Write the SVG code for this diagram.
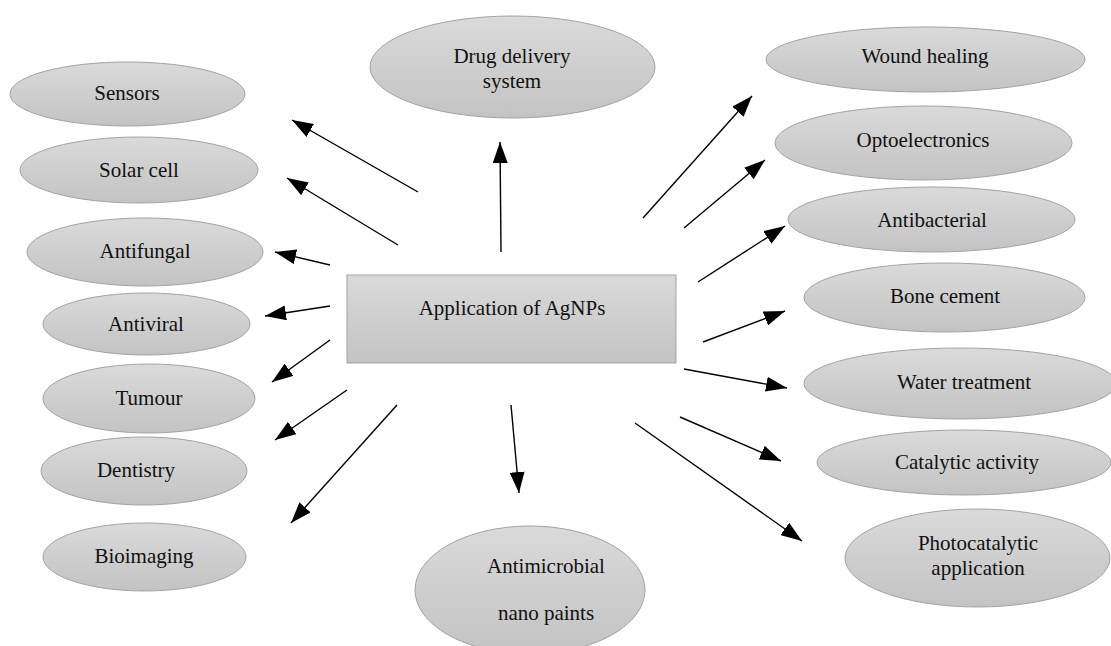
<svg xmlns="http://www.w3.org/2000/svg" width="1111" height="646" viewBox="0 0 1111 646">
<style>
.n{fill:url(#g);stroke:#a3a3a3;stroke-width:1}
.t{font-family:"Liberation Serif","Times New Roman",serif;font-size:21px;fill:#111;text-anchor:middle}
.c line{stroke:#000;stroke-width:1.4;marker-end:url(#ah)}
</style>
<defs>
<linearGradient id="g" x1="0" y1="0" x2="0" y2="1">
<stop offset="0" stop-color="#dadada"/>
<stop offset="1" stop-color="#c3c3c3"/>
</linearGradient>
<marker id="ah" markerUnits="userSpaceOnUse" markerWidth="21" markerHeight="15" refX="21" refY="7.5" orient="auto" viewBox="0 0 21 15">
<path d="M0,0 L21,7.5 L0,15 z" fill="#000"/>
</marker>
</defs>
<g id="center"><rect class="n" x="347" y="275" width="329" height="88"/><text class="t" x="512" y="315">Application of AgNPs</text></g>
<g id="sensors"><ellipse class="n" cx="127.5" cy="94" rx="117.5" ry="32"/><text class="t" x="127" y="100">Sensors</text></g>
<g id="solar"><ellipse class="n" cx="139" cy="170" rx="119" ry="33"/><text class="t" x="139" y="177">Solar cell</text></g>
<g id="antifungal"><ellipse class="n" cx="145" cy="252" rx="118" ry="34"/><text class="t" x="145" y="258">Antifungal</text></g>
<g id="antiviral"><ellipse class="n" cx="146.5" cy="324" rx="103.5" ry="31"/><text class="t" x="146" y="331">Antiviral</text></g>
<g id="tumour"><ellipse class="n" cx="149" cy="398.5" rx="106" ry="34.5"/><text class="t" x="149" y="405">Tumour</text></g>
<g id="dentistry"><ellipse class="n" cx="144" cy="471" rx="103" ry="34"/><text class="t" x="136" y="477">Dentistry</text></g>
<g id="bioimaging"><ellipse class="n" cx="144.5" cy="557" rx="101.5" ry="34"/><text class="t" x="144" y="563">Bioimaging</text></g>
<g id="drug"><ellipse class="n" cx="512.5" cy="67" rx="142.5" ry="51"/><text class="t" x="512" y="63">Drug delivery</text><text class="t" x="512" y="88">system</text></g>
<g id="wound"><ellipse class="n" cx="925.5" cy="59.5" rx="159.5" ry="32.5"/><text class="t" x="925" y="63">Wound healing</text></g>
<g id="opto"><ellipse class="n" cx="923.5" cy="143" rx="148.5" ry="37"/><text class="t" x="923" y="147">Optoelectronics</text></g>
<g id="antibacterial"><ellipse class="n" cx="931.5" cy="219.5" rx="143.5" ry="32.5"/><text class="t" x="932" y="227">Antibacterial</text></g>
<g id="bone"><ellipse class="n" cx="944.5" cy="297.5" rx="140.5" ry="34.5"/><text class="t" x="945" y="303">Bone cement</text></g>
<g id="water"><ellipse class="n" cx="960" cy="383.5" rx="156" ry="35.5"/><text class="t" x="964" y="389">Water treatment</text></g>
<g id="catalytic"><ellipse class="n" cx="964" cy="462.5" rx="147" ry="32.5"/><text class="t" x="967" y="469">Catalytic activity</text></g>
<g id="photo"><ellipse class="n" cx="977.5" cy="558" rx="132.5" ry="49"/><text class="t" x="978" y="550">Photocatalytic</text><text class="t" x="978" y="575">application</text></g>
<g id="paints"><ellipse class="n" cx="530" cy="590" rx="115" ry="64"/><text class="t" x="546" y="573">Antimicrobial</text><text class="t" x="546" y="620">nano paints</text></g>
<g class="c" id="connectors">
<line x1="418" y1="192" x2="292" y2="120"/>
<line x1="398" y1="245" x2="287" y2="178"/>
<line x1="330" y1="265" x2="275" y2="252"/>
<line x1="330" y1="306" x2="265" y2="316"/>
<line x1="330" y1="340" x2="272" y2="382"/>
<line x1="347" y1="390" x2="275" y2="440"/>
<line x1="397" y1="405" x2="291" y2="523"/>
<line x1="501" y1="252" x2="500" y2="142"/>
<line x1="511" y1="405" x2="519" y2="493"/>
<line x1="643" y1="218" x2="752" y2="96"/>
<line x1="684" y1="228" x2="765" y2="160"/>
<line x1="698" y1="282" x2="785" y2="226"/>
<line x1="703" y1="342" x2="785" y2="311"/>
<line x1="684" y1="369" x2="787" y2="388"/>
<line x1="680" y1="417" x2="781" y2="461"/>
<line x1="635" y1="423" x2="802" y2="541"/>
</g>
</svg>
